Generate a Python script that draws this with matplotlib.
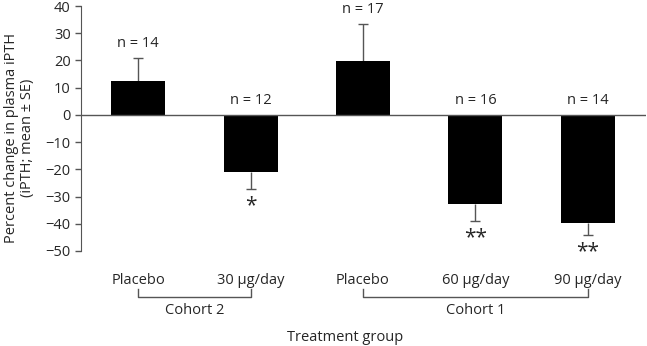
import numpy as np
import matplotlib.pyplot as plt
import matplotlib.transforms as mtransforms

plt.rcParams['font.family'] = ['Open Sans', 'DejaVu Sans']

groups = ['Placebo', '30 \u00b5g/day', 'Placebo', '60 \u00b5g/day', '90 \u00b5g/day']
means = [12.5, -20.8, 19.8, -32.7, -39.6]
errs = [8.4, 6.4, 13.6, 6.2, 4.4]
ns = [14, 12, 17, 16, 14]
stars = ['', '*', '', '**', '**']
cohorts = [('Cohort 2', 0, 1), ('Cohort 1', 2, 4)]

txt = '#262626'
lc = '#555555'

fig = plt.figure(figsize=(6.47, 3.46), dpi=100)
ax = fig.add_axes((81 / 647, 1 - 251 / 346, 565 / 647, 245 / 346))

x = np.arange(len(means))
ax.bar(x, means, width=0.48, color='black', zorder=2)

# one-sided error bars, cap only at the outer end
for xi, m, e in zip(x, means, errs):
    lo = [[0], [e]] if m > 0 else [[e], [0]]
    eb = ax.errorbar(xi, m, yerr=lo, color=lc, lw=1, capsize=3.5, capthick=1, zorder=1)
    caps = eb[1]
    if m > 0:
        caps[0].set_visible(False)
    else:
        caps[1].set_visible(False)

ax.axhline(0, color=lc, lw=1, zorder=3)

for xi, m, e, n in zip(x, means, errs, ns):
    top = m + e if m > 0 else 0
    ax.annotate('n = %d' % n, (xi, top), xytext=(0, 5), textcoords='offset points',
                ha='center', va='bottom', fontsize=10.5, color=txt)

for xi, m, e, s in zip(x, means, errs, stars):
    if s:
        ax.annotate(s, (xi, m - e), xytext=(0, -4.5),
                    textcoords='offset points', ha='center', va='top',
                    fontsize=15, color=txt)

ax.set_xlim(-0.507, 4.516)
ax.set_ylim(-50, 40)
ax.set_yticks(range(-50, 41, 10))
ax.set_xticks(x)
ax.set_xticklabels(groups, fontsize=10.5, color=txt)
ax.tick_params(axis='x', length=0, pad=16)
ax.tick_params(axis='y', labelsize=10.5, labelcolor=txt, color=lc, length=4, width=1)
for s in ['top', 'right', 'bottom']:
    ax.spines[s].set_visible(False)
ax.spines['left'].set_color(lc)

ax.set_ylabel('Percent change in plasma iPTH\n(iPTH; mean \u00b1 SE)', fontsize=10.5,
              color=txt, linespacing=1.1)
ax.yaxis.set_label_coords(-0.081, 0.46)

tr = mtransforms.blended_transform_factory(ax.transData, ax.transAxes)
for name, a, b in cohorts:
    ax.plot([a, a, b, b], [-0.155, -0.188, -0.188, -0.155], color=lc, lw=1,
            transform=tr, clip_on=False)
    ax.text((a + b) / 2, -0.243, name, transform=tr, ha='center', va='center',
            fontsize=10.5, color=txt)

ax.text(1.84, -0.352, 'Treatment group', transform=tr, ha='center', va='center',
        fontsize=10.5, color=txt)

fig.savefig('out.png', dpi=100)
